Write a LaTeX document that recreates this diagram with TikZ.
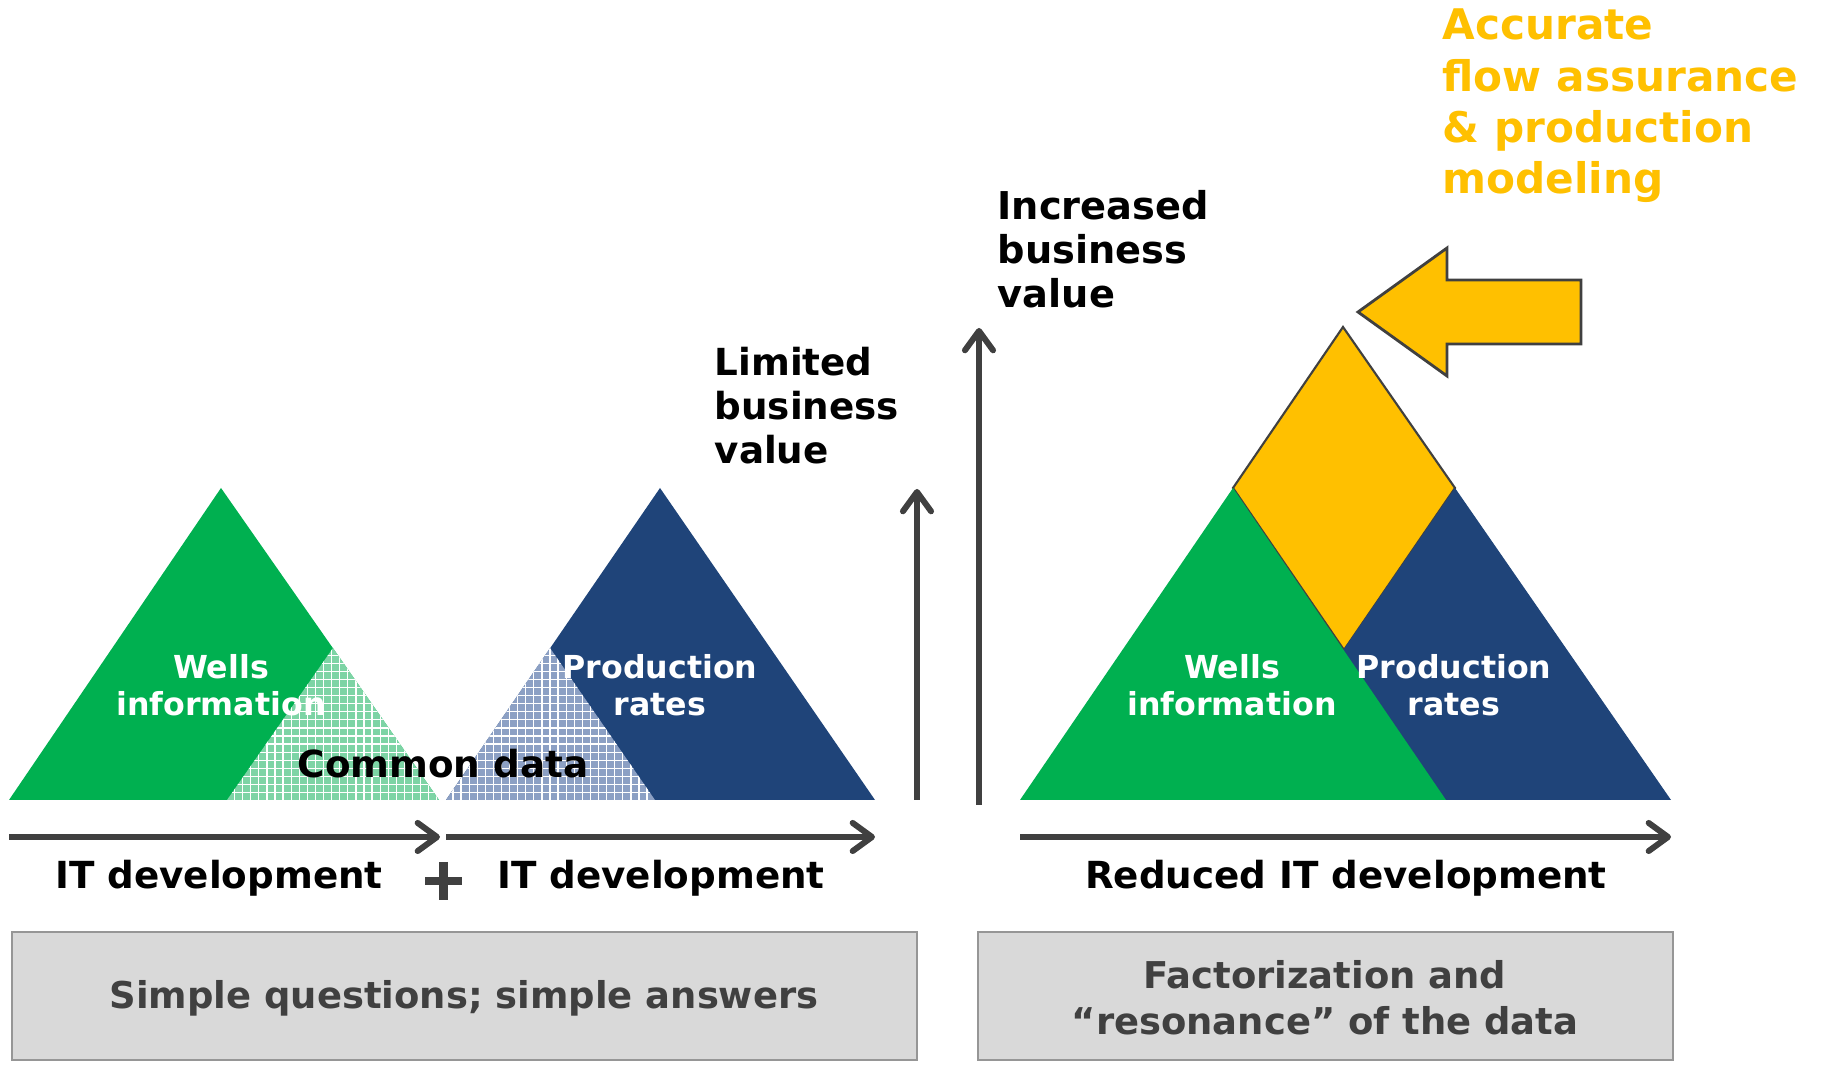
\documentclass[tikz,border=0pt]{standalone}
\usepackage{fontspec}
\setmainfont{DejaVu Sans}
\usetikzlibrary{arrows.meta}
\definecolor{cgreen}{RGB}{0,176,80}
\definecolor{cblue}{RGB}{31,68,121}
\definecolor{cyel}{RGB}{255,192,0}
\definecolor{cdark}{RGB}{64,64,64}
\definecolor{cbox}{RGB}{217,217,217}
\definecolor{cboxline}{RGB}{150,150,150}
\definecolor{hgreen}{RGB}{125,212,165}
\definecolor{hblue}{RGB}{140,160,196}
\begin{document}
\begin{tikzpicture}[x=0.01cm,y=-0.01cm,
  axisarrow/.style={draw=cdark, line width=1.7pt,
    -{Straight Barb[length=5.5pt,width=8pt,line cap=round,line join=round]}},
  lbl/.style={font=\fontsize{10.6}{12.5}\selectfont\bfseries, inner sep=0pt},
  inlbl/.style={font=\fontsize{9}{10.5}\selectfont\bfseries, inner sep=0pt, text=white, align=center},
  boxshape/.style={fill=cbox, draw=cboxline, line width=0.7pt},
  boxtext/.style={font=\fontsize{10.5}{13}\selectfont\bfseries, inner sep=0pt, text=cdark, align=center},
  outl/.style={draw=cdark, line width=0.6pt}
]
\useasboundingbox (0,0) rectangle (1823,1065);

% ---------- left: two separate triangles ----------
\fill[cgreen] (9,800) -- (221,488) -- (439,800) -- cycle;
\begin{scope}
  \clip (227,800) -- (333,648) -- (439,800) -- cycle;
  \fill[hgreen] (200,600) rectangle (470,810);
  \draw[white, line width=0.35pt, step=2.3pt] (200,600) grid (470,810);
\end{scope}
\fill[cblue] (446,800) -- (660,488) -- (875,800) -- cycle;
\begin{scope}
  \clip (446,800) -- (550,648) -- (655,800) -- cycle;
  \fill[hblue] (430,600) rectangle (680,810);
  \draw[white, line width=0.35pt, step=2.3pt] (430,600) grid (680,810);
\end{scope}
\node[inlbl] (wells1) at (221,685) {Wells\\information};
\node[inlbl] (prod1) at (660,685) {Production\\rates};
\node[lbl] (common) at (443,764) {Common data};

% ---------- right: combined triangle ----------
\filldraw[fill=cyel, outl] (1343,327) -- (1455,488) -- (1344,650) -- (1233,488) -- cycle;
\fill[cblue] (1240,800) -- (1455,488) -- (1671,800) -- cycle;
\fill[cgreen] (1020,800) -- (1233,488) -- (1446,800) -- cycle;
\node[inlbl] (wells2) at (1232,685) {Wells\\information};
\node[inlbl] (prod2) at (1454,685) {Production\\rates};

% yellow block arrow
\filldraw[fill=cyel, draw=cdark, line width=0.8pt]
  (1358,312) -- (1447,248) -- (1447,280) -- (1581,280) -- (1581,344)
  -- (1447,344) -- (1447,376) -- cycle;

% ---------- arrows ----------
\coordinate (h1s) at (9,837);   \coordinate (h1e) at (440,837);
\coordinate (h2s) at (446,837); \coordinate (h2e) at (875,837);
\coordinate (h3s) at (1020,837);\coordinate (h3e) at (1671,837);
\coordinate (v1s) at (917,800); \coordinate (v1e) at (917,489);
\coordinate (v2s) at (979,805); \coordinate (v2e) at (979,328);
\draw[axisarrow] (h1s) -- (h1e);
\draw[axisarrow] (h2s) -- (h2e);
\draw[axisarrow] (h3s) -- (h3e);
\draw[axisarrow] (v1s) -- (v1e);
\draw[axisarrow] (v2s) -- (v2e);

% plus sign
\draw[cdark, line width=2.3pt] (425,881) -- (462,881) (443.5,862) -- (443.5,900);

% ---------- labels ----------
\node[lbl] (it1) at (219,878) {IT development};
\node[lbl] (it2) at (661,878) {IT development};
\node[lbl] (it3) at (1346,878) {Reduced IT development};

\node[lbl, anchor=west, align=left] (limited) at (714,406) {Limited\\business\\value};
\node[lbl, anchor=west, align=left, font=\fontsize{10.9}{12.5}\selectfont\bfseries] (increased) at (997,249) {Increased\\business\\value};
\node[anchor=west, align=left, inner sep=0pt, text=cyel,
  font=\fontsize{12}{14.6}\selectfont\bfseries] (accurate) at (1442,106)
  {Accurate\\flow assurance\\\& production\\modeling};

% ---------- boxes ----------
\path[boxshape] (12,932) rectangle (917,1060);
\path[boxshape] (978,932) rectangle (1673,1060);
\node[boxtext] (simple) at (464,998) {Simple questions; simple answers};
\node[boxtext] (factor) at (1325,998) {Factorization and\\“resonance” of the data};
\end{tikzpicture}
\end{document}
